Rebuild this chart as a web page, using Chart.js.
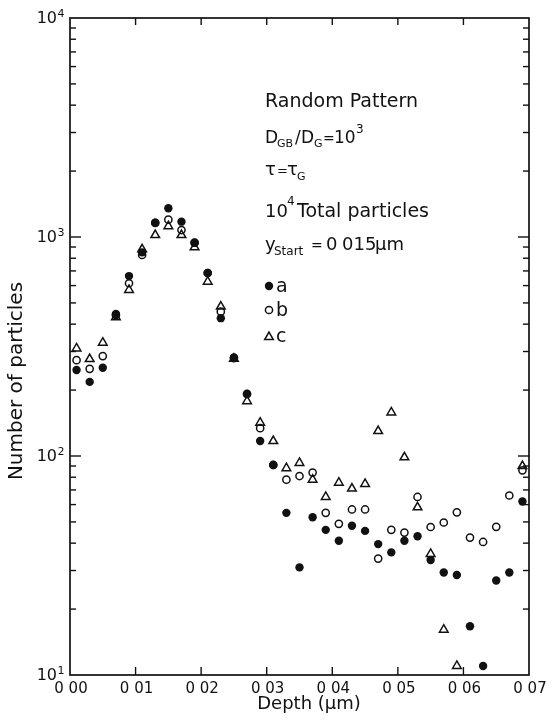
<!DOCTYPE html>
<html><head><meta charset="utf-8">
<script src="https://cdn.jsdelivr.net/npm/chart.js@4/dist/chart.umd.min.js"></script>
<style>html,body{margin:0;padding:0;background:#fff}canvas{display:block}</style>
</head><body>
<canvas id="c" width="554" height="727"></canvas>
<script>
// ---- data ----
const depthUm = [0.001,0.003,0.005,0.007,0.009,0.011,0.013,0.015,0.017,0.019,0.021,0.023,0.025,0.027,0.029,0.031,0.033,0.035,0.037,0.039,0.041,0.043,0.045,0.047,0.049,0.051,0.053,0.055,0.057,0.059,0.061,0.063,0.065,0.067,0.069];
const countsA = [247,218,253,445,663,851,1162,1352,1175,942,685,426,282,192,117,91,55,31,52.5,46,41,48,45.5,39.6,36.3,41,43,33.5,29.4,28.6,16.7,11.0,27,29.4,62];
const countsB = [274,250,286,440,615,828,1160,1200,1076,942,685,456,280,192,134,91,78,81,84,55,49,57,57,34,46,44.7,65,47.4,49.7,55.3,42.4,40.5,47.5,66,86];
const countsC = [310,277,329,430,573,878,1021,1120,1021,897,625,481,278,178,142,117,88,93,78,65,75.5,71,74.5,130,158,98.6,58.3,35.7,16.1,11.0,null,null,null,null,90];
const xTickValues = [0,0.01,0.02,0.03,0.04,0.05,0.06,0.07];
const xTickLabels = ["0 00","0 01","0 02","0 03","0 04","0 05","0 06","0 07"];
const yTickExponents = [1,2,3,4];
const seriesNames = ["a","b","c"];

const FONT = '"DejaVu Sans", sans-serif';
function pts(arr){ return depthUm.map((d,i)=>({x:d,y:arr[i]})); }

function drawRuns(ctx, x, base, runs){
  let cx = x;
  runs.forEach(r=>{
    ctx.font = r.size + 'px ' + FONT;
    if (r.x !== undefined) cx = r.x;
    ctx.fillText(r.t, cx, base + (r.dy||0));
    cx += ctx.measureText(r.t).width + (r.gap||0);
  });
}

const framePlugin = {
  id:'frame',
  afterDatasetsDraw(chart){
    const {ctx, chartArea:a, scales:{x, y}} = chart;
    ctx.save();
    ctx.strokeStyle = '#111';
    ctx.fillStyle = '#111';
    ctx.lineWidth = 1.7;
    ctx.strokeRect(a.left, a.top, a.right-a.left, a.bottom-a.top);
    ctx.lineWidth = 1.4;
    const line=(x1,y1,x2,y2)=>{ctx.beginPath();ctx.moveTo(x1,y1);ctx.lineTo(x2,y2);ctx.stroke();};
    // x ticks (inward, top and bottom)
    xTickValues.forEach(v=>{
      const px = x.getPixelForValue(v);
      if (v>xTickValues[0] && v<xTickValues[xTickValues.length-1]){
        line(px,a.bottom,px,a.bottom-8);
        line(px,a.top,px,a.top+7);
      }
    });
    // y ticks (inward, left and right)
    for (let e=yTickExponents[0]; e<yTickExponents[yTickExponents.length-1]; e++){
      for (let m=1;m<10;m++){
        if (e===yTickExponents[0] && m===1) continue;
        const py = y.getPixelForValue(m*Math.pow(10,e));
        const L = (m===1)?11:6;
        line(a.left,py,a.left+L,py);
        line(a.right,py,a.right-L,py);
      }
    }
    // x tick labels
    ctx.textAlign='center'; ctx.textBaseline='middle';
    ctx.font = '15px ' + FONT;
    xTickValues.forEach((v,i)=>{
      ctx.fillText(xTickLabels[i], x.getPixelForValue(v)+1, a.bottom+14);
    });
    // y tick labels 10^n
    yTickExponents.forEach(e=>{
      const py = y.getPixelForValue(Math.pow(10,e));
      ctx.textAlign='right'; ctx.textBaseline='middle';
      ctx.font = '16px ' + FONT;
      ctx.fillText('10', 57, py+1);
      ctx.textAlign='left'; ctx.textBaseline='alphabetic';
      ctx.font = '11px ' + FONT;
      ctx.fillText(String(e), 57.5, py-1);
    });
    // axis titles
    ctx.textAlign='center'; ctx.textBaseline='alphabetic';
    ctx.font = '18px ' + FONT;
    ctx.fillText('Depth (\u03bcm)', 309, 709);
    ctx.save();
    ctx.translate(22, 381);
    ctx.rotate(-Math.PI/2);
    ctx.font = '20px ' + FONT;
    ctx.fillText('Number of particles', 0, 0);
    ctx.restore();
    // annotation block
    ctx.textAlign='left'; ctx.textBaseline='alphabetic';
    drawRuns(ctx, 265, 107, [{t:'Random Pattern', size:19}]);
    drawRuns(ctx, 265, 143, [
      {t:'D', size:17},{t:'GB', size:11, dy:4, x:277},{t:'/', size:17, x:295},
      {t:'D', size:17, x:301},{t:'G', size:11, dy:4, x:314},{t:'=', size:14, x:323},
      {t:'10', size:17, x:334},{t:'3', size:12, dy:-10, x:356}]);
    drawRuns(ctx, 265, 175, [{t:'\u03c4', size:18},{t:'=', size:13, x:277},{t:'\u03c4', size:18, x:287},{t:'G', size:11, dy:5, x:297}]);
    drawRuns(ctx, 265, 217, [{t:'10', size:18},{t:'4', size:12, dy:-12, x:287},{t:'Total particles', size:19, x:297}]);
    drawRuns(ctx, 265, 250, [{t:'y', size:18},{t:'Start', size:12, dy:5, x:274},{t:'=', size:14, x:311},{t:'0', size:18, x:326},{t:'015', size:18, x:342},{t:'\u03bcm', size:18, x:375}]);
    // legend markers
    ctx.lineWidth = 1.5;
    ctx.beginPath(); ctx.arc(269, 286, 4.2, 0, Math.PI*2); ctx.fill();
    ctx.beginPath(); ctx.arc(269, 310, 3.6, 0, Math.PI*2); ctx.stroke();
    const r=5, tx=269, ty=337;
    ctx.beginPath(); ctx.moveTo(tx, ty-r); ctx.lineTo(tx+r*0.866, ty+r/2); ctx.lineTo(tx-r*0.866, ty+r/2); ctx.closePath(); ctx.stroke();
    ctx.font = '19px ' + FONT;
    ctx.fillText(seriesNames[0], 276, 292);
    ctx.fillText(seriesNames[1], 276, 316);
    ctx.fillText(seriesNames[2], 276, 342);
    ctx.restore();
  }
};

new Chart(document.getElementById('c').getContext('2d'), {
  type:'scatter',
  data:{datasets:[
    {label:seriesNames[2], data:pts(countsC), pointStyle:'triangle', pointRadius:5, borderColor:'#111', backgroundColor:'rgba(0,0,0,0)', borderWidth:1.5, clip:false},
    {label:seriesNames[1], data:pts(countsB), pointStyle:'circle', pointRadius:3.6, borderColor:'#111', backgroundColor:'rgba(0,0,0,0)', borderWidth:1.5, clip:false},
    {label:seriesNames[0], data:pts(countsA), pointStyle:'circle', pointRadius:4.2, borderColor:'#111', backgroundColor:'#111', borderWidth:0, clip:false}
  ]},
  options:{
    responsive:false, animation:false, events:[],
    layout:{padding:{left:70,right:25,top:18,bottom:52}},
    plugins:{legend:{display:false}, tooltip:{enabled:false}},
    scales:{
      x:{type:'linear', min:0, max:0.07, display:false},
      y:{type:'logarithmic', min:10, max:10000, display:false}
    }
  },
  plugins:[framePlugin]
});
</script>
</body></html>
